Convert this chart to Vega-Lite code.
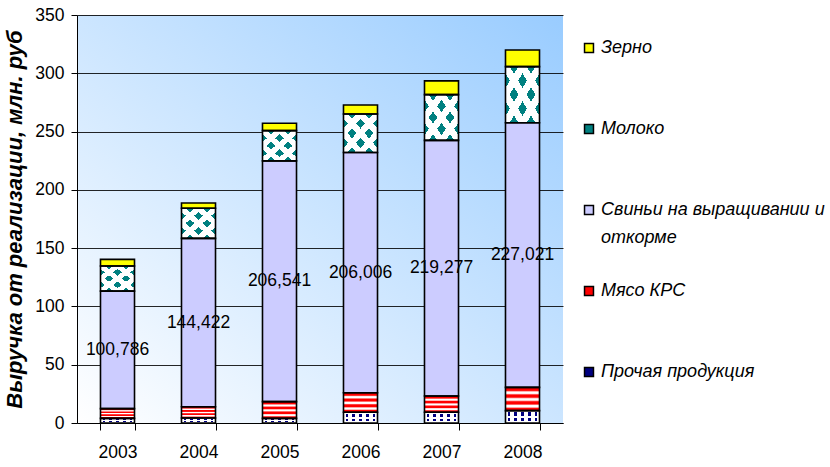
{
  "$schema": "https://vega.github.io/schema/vega-lite/v6.json",
  "width": 486,
  "height": 408,
  "autosize": {"type": "none"},
  "padding": {"left": 77, "top": 15, "right": 267, "bottom": 44},
  "background": "#ffffff",
  "config": {
    "font": "Liberation Sans, Arial",
    "view": {
      "stroke": null,
      "fill": {
        "gradient": "linear", "x1": 0, "y1": 1, "x2": 1, "y2": 0,
        "stops": [{"offset": 0, "color": "#ffffff"}, {"offset": 1, "color": "#99ccff"}]
      }
    },
    "style": {"guide-label": {"lineHeight": 28}}
  },
  "data": {
    "values": [
      {"year": "2003", "category": "Прочая продукция", "ord": 1, "value": 4.0},
      {"year": "2003", "category": "Мясо КРС", "ord": 2, "value": 8.3},
      {"year": "2003", "category": "Свиньи на выращивании и откорме", "ord": 3, "value": 100.786},
      {"year": "2003", "category": "Молоко", "ord": 4, "value": 21.6},
      {"year": "2003", "category": "Зерно", "ord": 5, "value": 5.7},
      {"year": "2004", "category": "Прочая продукция", "ord": 1, "value": 4.3},
      {"year": "2004", "category": "Мясо КРС", "ord": 2, "value": 9.7},
      {"year": "2004", "category": "Свиньи на выращивании и откорме", "ord": 3, "value": 144.422},
      {"year": "2004", "category": "Молоко", "ord": 4, "value": 25.8},
      {"year": "2004", "category": "Зерно", "ord": 5, "value": 4.5},
      {"year": "2005", "category": "Прочая продукция", "ord": 1, "value": 4.0},
      {"year": "2005", "category": "Мясо КРС", "ord": 2, "value": 14.3},
      {"year": "2005", "category": "Свиньи на выращивании и откорме", "ord": 3, "value": 206.541},
      {"year": "2005", "category": "Молоко", "ord": 4, "value": 26.0},
      {"year": "2005", "category": "Зерно", "ord": 5, "value": 6.3},
      {"year": "2006", "category": "Прочая продукция", "ord": 1, "value": 9.2},
      {"year": "2006", "category": "Мясо КРС", "ord": 2, "value": 16.8},
      {"year": "2006", "category": "Свиньи на выращивании и откорме", "ord": 3, "value": 206.006},
      {"year": "2006", "category": "Молоко", "ord": 4, "value": 33.1},
      {"year": "2006", "category": "Зерно", "ord": 5, "value": 7.7},
      {"year": "2007", "category": "Прочая продукция", "ord": 1, "value": 9.2},
      {"year": "2007", "category": "Мясо КРС", "ord": 2, "value": 14.0},
      {"year": "2007", "category": "Свиньи на выращивании и откорме", "ord": 3, "value": 219.277},
      {"year": "2007", "category": "Молоко", "ord": 4, "value": 39.2},
      {"year": "2007", "category": "Зерно", "ord": 5, "value": 11.8},
      {"year": "2008", "category": "Прочая продукция", "ord": 1, "value": 10.6},
      {"year": "2008", "category": "Мясо КРС", "ord": 2, "value": 20.0},
      {"year": "2008", "category": "Свиньи на выращивании и откорме", "ord": 3, "value": 227.021},
      {"year": "2008", "category": "Молоко", "ord": 4, "value": 48.1},
      {"year": "2008", "category": "Зерно", "ord": 5, "value": 14.3}
    ]
  },
  "transform": [
    {"stack": "value", "groupby": ["year"], "sort": [{"field": "ord", "order": "ascending"}], "as": ["v0", "v1"]},
    {"calculate": "(datum.v0 + datum.v1) / 2", "as": "mid"},
    {"calculate": "replace(format(datum.value, '.3f'), '.', ',')", "as": "lbl"}
  ],
  "encoding": {
    "x": {
      "field": "year", "type": "nominal",
      "scale": {"paddingInner": 0.58, "paddingOuter": 0.29},
      "axis": {
        "title": null, "labelAngle": 0, "tickBand": "extent",
        "tickSize": 7, "tickColor": "#000000", "domainColor": "#000000",
        "labelFontSize": 17.5, "labelColor": "#000000", "labelPadding": 13
      }
    },
    "y": {
      "field": "v0", "type": "quantitative",
      "scale": {"domain": [0, 350], "nice": false},
      "axis": {
        "title": "Выручка от реализации, млн. руб",
        "titleFontSize": 22, "titleFontWeight": "bold",
        "titleFontStyle": "italic", "titleColor": "#000000", "titlePadding": 8,
        "values": [0, 50, 100, 150, 200, 250, 300, 350],
        "grid": true, "gridColor": "#000000", "gridWidth": 1, "gridOpacity": 0.85,
        "domainColor": "#000000", "tickColor": "#000000", "tickSize": 6,
        "labelFontSize": 17.5, "labelColor": "#000000", "labelPadding": 7
      }
    },
    "y2": {"field": "v1"}
  },
  "layer": [
    {
      "mark": {"type": "bar"},
      "encoding": {
        "color": {
          "field": "category", "type": "nominal",
          "scale": {
            "domain": ["Зерно", "Молоко", "Свиньи на выращивании и откорме", "Мясо КРС", "Прочая продукция"],
            "range": ["#ffff00", "#008080", "#ccccff", "#ff0000", "#000080"]
          },
          "legend": {
            "title": null, "orient": "none", "legendX": 503, "legendY": 24,
            "direction": "vertical", "gridAlign": "all", "rowPadding": 35,
            "symbolType": "square", "symbolSize": 80, "symbolStrokeColor": "#000000",
            "symbolStrokeWidth": 1.5, "symbolOpacity": 1,
            "labelFontSize": 18, "labelFontStyle": "italic", "labelColor": "#000000",
            "labelLimit": 320, "labelOffset": 3, "labelBaseline": "middle",
            "labelExpr": "datum.label == 'Свиньи на выращивании и откорме' ? ['Свиньи на выращивании и', 'откорме'] : datum.label"
          }
        }
      }
    },
    {
      "transform": [{"filter": "datum.category == 'Мясо КРС'"}],
      "mark": {
        "type": "bar",
        "fill": {
          "gradient": "linear", "x1": 0, "y1": 0, "x2": 0, "y2": 1,
          "stops": [
            {"offset": 0, "color": "#ff0000"}, {"offset": 0.13, "color": "#ff0000"},
            {"offset": 0.2, "color": "#ffffff"}, {"offset": 0.26, "color": "#ffffff"},
            {"offset": 0.33, "color": "#ff0000"}, {"offset": 0.42, "color": "#ff0000"},
            {"offset": 0.49, "color": "#ffffff"}, {"offset": 0.55, "color": "#ffffff"},
            {"offset": 0.62, "color": "#ff0000"}, {"offset": 0.71, "color": "#ff0000"},
            {"offset": 0.78, "color": "#ffffff"}, {"offset": 0.84, "color": "#ffffff"},
            {"offset": 0.91, "color": "#ff0000"}, {"offset": 1, "color": "#ff0000"}
          ]
        }
      }
    },
    {
      "transform": [{"filter": "datum.category == 'Молоко'"}],
      "mark": {
        "type": "bar",
        "fill": {
          "gradient": "linear", "x1": 0, "y1": 0, "x2": 1, "y2": 1,
          "stops": [
            {"offset": 0, "color": "#ffffff"}, {"offset": 0.06, "color": "#ffffff"},
            {"offset": 0.06, "color": "rgba(255,255,255,0)"}, {"offset": 0.19, "color": "rgba(255,255,255,0)"},
            {"offset": 0.19, "color": "#ffffff"}, {"offset": 0.31, "color": "#ffffff"},
            {"offset": 0.31, "color": "rgba(255,255,255,0)"}, {"offset": 0.44, "color": "rgba(255,255,255,0)"},
            {"offset": 0.44, "color": "#ffffff"}, {"offset": 0.56, "color": "#ffffff"},
            {"offset": 0.56, "color": "rgba(255,255,255,0)"}, {"offset": 0.69, "color": "rgba(255,255,255,0)"},
            {"offset": 0.69, "color": "#ffffff"}, {"offset": 0.81, "color": "#ffffff"},
            {"offset": 0.81, "color": "rgba(255,255,255,0)"}, {"offset": 0.94, "color": "rgba(255,255,255,0)"},
            {"offset": 0.94, "color": "#ffffff"}, {"offset": 1, "color": "#ffffff"}
          ]
        }
      }
    },
    {
      "transform": [{"filter": "datum.category == 'Молоко'"}],
      "mark": {
        "type": "bar",
        "fill": {
          "gradient": "linear", "x1": 1, "y1": 0, "x2": 0, "y2": 1,
          "stops": [
            {"offset": 0, "color": "#ffffff"}, {"offset": 0.06, "color": "#ffffff"},
            {"offset": 0.06, "color": "rgba(255,255,255,0)"}, {"offset": 0.19, "color": "rgba(255,255,255,0)"},
            {"offset": 0.19, "color": "#ffffff"}, {"offset": 0.31, "color": "#ffffff"},
            {"offset": 0.31, "color": "rgba(255,255,255,0)"}, {"offset": 0.44, "color": "rgba(255,255,255,0)"},
            {"offset": 0.44, "color": "#ffffff"}, {"offset": 0.56, "color": "#ffffff"},
            {"offset": 0.56, "color": "rgba(255,255,255,0)"}, {"offset": 0.69, "color": "rgba(255,255,255,0)"},
            {"offset": 0.69, "color": "#ffffff"}, {"offset": 0.81, "color": "#ffffff"},
            {"offset": 0.81, "color": "rgba(255,255,255,0)"}, {"offset": 0.94, "color": "rgba(255,255,255,0)"},
            {"offset": 0.94, "color": "#ffffff"}, {"offset": 1, "color": "#ffffff"}
          ]
        }
      }
    },
    {
      "transform": [{"filter": "datum.category == 'Прочая продукция'"}],
      "mark": {
        "type": "bar",
        "fill": {
          "gradient": "linear", "x1": 0, "y1": 0, "x2": 1, "y2": 0,
          "stops": [
            {"offset": 0, "color": "#ffffff"}, {"offset": 0.06, "color": "#ffffff"},
            {"offset": 0.06, "color": "rgba(255,255,255,0)"}, {"offset": 0.14, "color": "rgba(255,255,255,0)"},
            {"offset": 0.14, "color": "#ffffff"}, {"offset": 0.26, "color": "#ffffff"},
            {"offset": 0.26, "color": "rgba(255,255,255,0)"}, {"offset": 0.34, "color": "rgba(255,255,255,0)"},
            {"offset": 0.34, "color": "#ffffff"}, {"offset": 0.46, "color": "#ffffff"},
            {"offset": 0.46, "color": "rgba(255,255,255,0)"}, {"offset": 0.54, "color": "rgba(255,255,255,0)"},
            {"offset": 0.54, "color": "#ffffff"}, {"offset": 0.66, "color": "#ffffff"},
            {"offset": 0.66, "color": "rgba(255,255,255,0)"}, {"offset": 0.74, "color": "rgba(255,255,255,0)"},
            {"offset": 0.74, "color": "#ffffff"}, {"offset": 0.86, "color": "#ffffff"},
            {"offset": 0.86, "color": "rgba(255,255,255,0)"}, {"offset": 0.94, "color": "rgba(255,255,255,0)"},
            {"offset": 0.94, "color": "#ffffff"}, {"offset": 1, "color": "#ffffff"}
          ]
        }
      }
    },
    {
      "transform": [{"filter": "datum.category == 'Прочая продукция'"}],
      "mark": {
        "type": "bar",
        "fill": {
          "gradient": "linear", "x1": 0, "y1": 0, "x2": 0, "y2": 1,
          "stops": [
            {"offset": 0, "color": "#ffffff"}, {"offset": 0.15, "color": "#ffffff"},
            {"offset": 0.15, "color": "rgba(255,255,255,0)"}, {"offset": 0.4, "color": "rgba(255,255,255,0)"},
            {"offset": 0.4, "color": "#ffffff"}, {"offset": 0.6, "color": "#ffffff"},
            {"offset": 0.6, "color": "rgba(255,255,255,0)"}, {"offset": 0.85, "color": "rgba(255,255,255,0)"},
            {"offset": 0.85, "color": "#ffffff"}, {"offset": 1, "color": "#ffffff"}
          ]
        }
      }
    },
    {
      "mark": {"type": "bar", "fill": "transparent", "stroke": "#000000", "strokeWidth": 1.6}
    },
    {
      "transform": [{"filter": "datum.category == 'Свиньи на выращивании и откорме'"}],
      "mark": {"type": "text", "fontSize": 17.5, "color": "#000000", "align": "center", "baseline": "middle"},
      "encoding": {
        "y": {"field": "mid", "type": "quantitative"},
        "y2": null,
        "text": {"field": "lbl", "type": "nominal"}
      }
    }
  ]
}
